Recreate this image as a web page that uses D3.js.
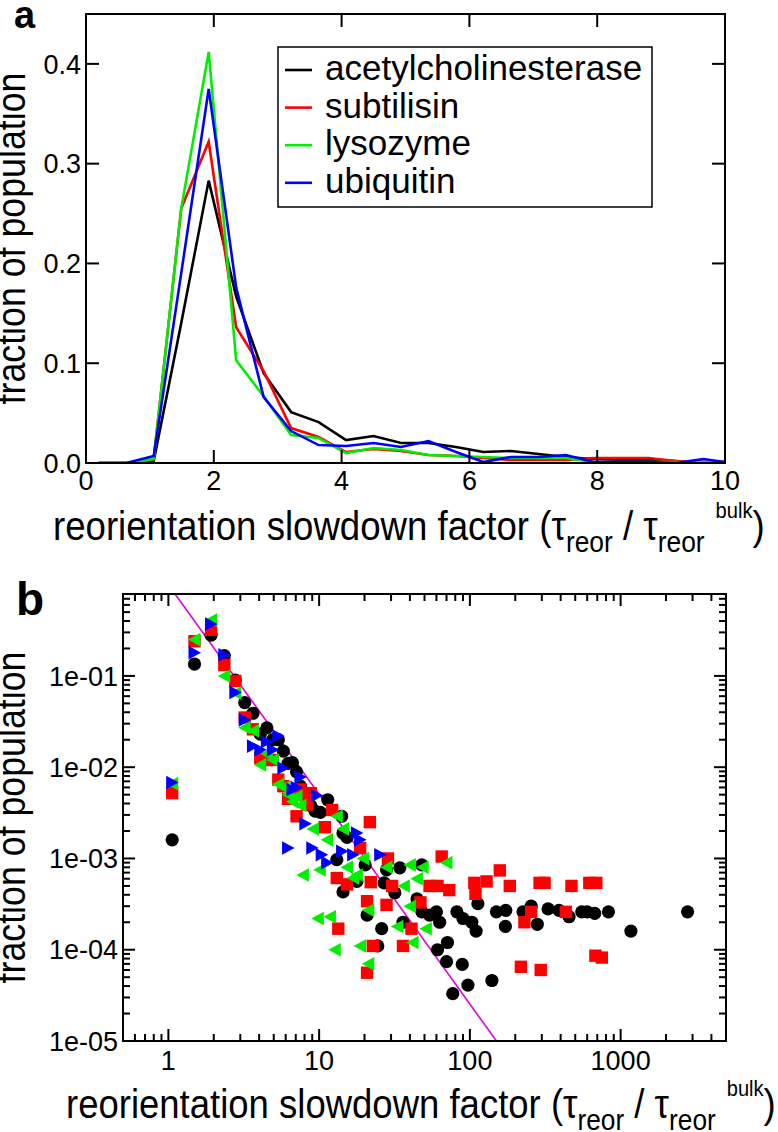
<!DOCTYPE html>
<html><head><meta charset="utf-8">
<script src="https://cdn.jsdelivr.net/npm/d3@7"></script>
<style>body{margin:0;background:#fff} svg{display:block} text{font-family:"Liberation Sans",Arial,Helvetica,sans-serif;fill:#000}</style>
</head><body><svg id="c" width="778" height="1132"></svg>
<script>
// ---------- DATA ----------
const seriesNames = ["acetylcholinesterase", "subtilisin", "lysozyme", "ubiquitin"];
const seriesColors = ["#000000", "#ff0000", "#00ee00", "#0000ff"];

// panel a: histogram bin centres and fractions
const binX = [0.20, 0.63, 1.06, 1.49, 1.92, 2.35, 2.78, 3.21, 3.64, 4.07, 4.50, 4.93, 5.36, 5.79, 6.22, 6.65, 7.08, 7.51, 7.94, 8.37, 8.80, 9.23, 9.66, 10.09];
const histAce = [0, 0, 0.002, 0.140, 0.283, 0.167, 0.090, 0.051, 0.041, 0.023, 0.027, 0.020, 0.020, 0.016, 0.011, 0.012, 0.009, 0.006, 0.004, 0.003, 0.003, 0.002, 0.001, 0.001];
const histSub = [0, 0, 0.004, 0.255, 0.322, 0.136, 0.092, 0.035, 0.026, 0.011, 0.014, 0.012, 0.008, 0.007, 0.005, 0.003, 0.003, 0.003, 0.005, 0.005, 0.005, 0.002, 0.001, 0.001];
const histLys = [0, 0, 0.004, 0.255, 0.412, 0.103, 0.067, 0.028, 0.025, 0.010, 0.015, 0.013, 0.008, 0.007, 0.006, 0.005, 0.005, 0.005, 0.001, 0.001, 0.001, 0.001, 0.001, 0.001];
const histUbi = [0, 0, 0.007, 0.190, 0.375, 0.176, 0.066, 0.032, 0.018, 0.017, 0.020, 0.016, 0.022, 0.011, 0.001, 0.006, 0.006, 0.008, 0.001, 0.001, 0.001, 0.000, 0.004, 0.000];
const xTicksA = [0, 2, 4, 6, 8, 10];
const yTicksA = [0, 0.1, 0.2, 0.3, 0.4];
const yTickLabelsA = ["0.0", "0.1", "0.2", "0.3", "0.4"];

// panel b: log-log scatter
const aceX = [1.06, 1.49, 1.92, 2.35, 2.78, 3.21, 3.64, 4.07, 4.50, 4.93, 5.36, 5.79, 6.22, 6.65, 7.08, 7.51, 7.94, 8.80, 9.4, 10.2, 11.4, 13.1, 14.1, 14.4, 15.3, 14.4, 17.8, 20.2, 20.8, 24.5, 26, 27, 28, 31.8, 34.3, 36, 44.6, 48, 48, 54, 60, 61, 63, 70, 71, 77, 82, 89, 90, 97, 103, 110, 113, 140, 150, 172, 173, 225, 255, 280, 330, 390, 455, 552, 600, 673, 830, 1170, 2780];
const aceY = [0.0016, 0.135, 0.28, 0.167, 0.09, 0.051, 0.039, 0.023, 0.027, 0.020, 0.020, 0.015, 0.011, 0.0112, 0.0089, 0.0062, 0.0048, 0.0038, 0.0033, 0.0032, 0.0044, 0.00097, 0.0029, 0.0019, 0.0017, 0.00043, 0.00056, 0.00085, 0.00024, 0.00011, 0.00017, 0.00054, 0.00075, 0.00042, 0.00079, 0.0002, 0.00036, 0.00085, 0.00026, 0.00024, 0.00026, 0.0001, 0.0002, 0.000074, 0.00012, 0.000033, 0.00026, 0.000069, 0.00022, 0.000041, 0.0002, 0.00016, 0.00032, 0.000046, 0.00026, 0.00018, 0.00027, 0.00026, 0.0003, 0.00019, 0.00028, 0.00027, 0.00023, 0.00026, 0.00026, 0.00025, 0.00026, 0.00016, 0.00026];
const subX = [1.06, 1.49, 1.92, 2.35, 2.78, 3.21, 3.64, 4.07, 4.50, 4.93, 5.36, 5.79, 6.22, 7.08, 7.51, 7.94, 8.37, 8.80, 10.9, 12.2, 13.1, 13.4, 15.3, 18.7, 20.8, 20.8, 21.7, 22, 22.7, 28, 28.6, 30.5, 36, 41, 47, 54, 61, 65, 73, 107, 109, 129, 158, 184, 218, 230, 255, 290, 295, 313, 433, 472, 620, 680, 690, 750];
const subY = [0.0052, 0.24, 0.32, 0.132, 0.088, 0.035, 0.026, 0.0126, 0.012, 0.012, 0.0073, 0.0062, 0.0045, 0.0029, 0.0057, 0.0050, 0.0039, 0.0052, 0.0022, 0.0034, 0.00061, 0.00017, 0.00052, 0.0013, 0.00034, 0.000056, 0.0025, 0.00055, 0.00011, 0.00031, 0.001, 0.0005, 0.00011, 0.00017, 0.00033, 0.0005, 0.0005, 0.00105, 0.00045, 0.00054, 0.00041, 0.00056, 0.00074, 0.0005, 0.000065, 0.0002, 0.00026, 0.00054, 0.00006, 0.00054, 0.00026, 0.0005, 0.00054, 0.000086, 0.00054, 0.000082];
const lysX = [1.06, 1.49, 1.92, 2.35, 2.78, 3.21, 3.64, 4.07, 4.50, 4.93, 5.36, 5.79, 6.22, 6.65, 7.08, 7.51, 7.8, 9.1, 9.8, 10.1, 11.3, 11.8, 12.7, 13.1, 14.4, 15.3, 16.8, 17.8, 18.7, 19.6, 21.2, 21.2, 28, 33, 36.5, 40, 40, 41.7, 44.5, 48.6, 51, 70];
const lysY = [0.0066, 0.25, 0.41, 0.10, 0.065, 0.027, 0.025, 0.0106, 0.014, 0.012, 0.0065, 0.006, 0.005, 0.0042, 0.0048, 0.0038, 0.00066, 0.0021, 0.00022, 0.00075, 0.0016, 0.00023, 0.0001, 0.0029, 0.0021, 0.0008, 0.00061, 0.00066, 0.00011, 0.001, 0.00027, 0.00007, 0.0008, 0.00018, 0.0005, 0.0003, 0.00085, 0.00012, 0.0006, 0.0008, 0.00017, 0.0009];
const ubiX = [1.06, 1.49, 1.92, 2.35, 2.78, 3.21, 3.64, 4.07, 4.50, 4.93, 5.36, 5.79, 6.22, 6.65, 7.08, 7.51, 8.1, 9.0, 9.66, 10.4, 11.3, 14.2, 16.8, 17.8, 18.7, 25.4];
const ubiY = [0.0068, 0.18, 0.37, 0.17, 0.066, 0.033, 0.017, 0.0155, 0.019, 0.0155, 0.022, 0.0098, 0.0013, 0.0057, 0.006, 0.0078, 0.0024, 0.0013, 0.0049, 0.0011, 0.0009, 0.0012, 0.0011, 0.0019, 0.0016, 0.0011];
// power-law guide line (two end points in log-log space)
const fitX = [1, 150];
const fitY = [1, 1e-5];
const xTicksB = [1, 10, 100, 1000];
const xTickLabelsB = ["1", "10", "100", "1000"];
const yTicksB = [1e-1, 1e-2, 1e-3, 1e-4, 1e-5];
const yTickLabelsB = ["1e-01", "1e-02", "1e-03", "1e-04", "1e-05"];

// ---------- DRAWING ----------
const svg = d3.select("#c");
const FONT_TICK = 27;

function axisTitle(g, x0, y0, targetW, fs) {
  const t = g.append("text").attr("font-size", fs);
  t.append("tspan").text("reorientation slowdown factor (\u03c4");
  t.append("tspan").attr("font-size", fs * 0.72).attr("dy", fs * 0.3).text("reor");
  t.append("tspan").attr("dy", -fs * 0.3).text(" / \u03c4");
  t.append("tspan").attr("font-size", fs * 0.72).attr("dy", fs * 0.3).text("reor");
  t.append("tspan").attr("font-size", fs * 0.55).attr("dy", -fs * 0.85).attr("dx", fs * 0.3).text("bulk");
  t.append("tspan").attr("dy", fs * 0.55).text(")");
  const w = t.node().getBBox().width;
  t.attr("transform", `translate(${x0},${y0}) scale(${targetW / w},1)`);
}
function yTitle(g, cx, cy, len, fs) {
  const t = g.append("text").attr("font-size", fs).attr("text-anchor", "middle")
    .text("fraction of population");
  const w = t.node().getBBox().width;
  t.attr("transform", `translate(${cx},${cy}) rotate(-90) scale(${len / w},1)`);
}

// ===== Panel a =====
const A = {l: 86, r: 725, t: 14, b: 463};
const xA = d3.scaleLinear([0, 10], [A.l, A.r]);
const yA = d3.scaleLinear([0, 0.45], [A.b, A.t]);
const gA = svg.append("g");
gA.append("clipPath").attr("id", "clipA").append("rect")
  .attr("x", A.l).attr("y", A.t).attr("width", A.r - A.l).attr("height", A.b - A.t);

const hists = [histAce, histSub, histLys, histUbi];
const lineA = d3.line().x((d, i) => xA(binX[i])).y(d => yA(d));
hists.forEach((h, k) => {
  gA.append("path").datum(h).attr("d", lineA).attr("clip-path", "url(#clipA)")
    .attr("fill", "none").attr("stroke", seriesColors[k]).attr("stroke-width", 2.6)
    .attr("stroke-linejoin", "miter");
});
// frame
gA.append("rect").attr("x", A.l).attr("y", A.t).attr("width", A.r - A.l).attr("height", A.b - A.t)
  .attr("fill", "none").attr("stroke", "#000").attr("stroke-width", 2);
// ticks
const TK = 13;
xTicksA.forEach(v => {
  const x = xA(v);
  if (v > 0 && v < 10) {
    gA.append("line").attr("x1", x).attr("x2", x).attr("y1", A.b).attr("y2", A.b - TK).attr("stroke", "#000").attr("stroke-width", 2);
    gA.append("line").attr("x1", x).attr("x2", x).attr("y1", A.t).attr("y2", A.t + TK).attr("stroke", "#000").attr("stroke-width", 2);
  }
  gA.append("text").attr("x", x).attr("y", 490).attr("text-anchor", "middle").attr("font-size", FONT_TICK).text(v);
});
yTicksA.forEach((v, i) => {
  const y = yA(v);
  if (v > 0) {
    gA.append("line").attr("x1", A.l).attr("x2", A.l + TK).attr("y1", y).attr("y2", y).attr("stroke", "#000").attr("stroke-width", 2);
    gA.append("line").attr("x1", A.r).attr("x2", A.r - TK).attr("y1", y).attr("y2", y).attr("stroke", "#000").attr("stroke-width", 2);
  }
  gA.append("text").attr("x", 81).attr("y", y).attr("dy", "0.36em").attr("text-anchor", "end").attr("font-size", FONT_TICK).text(yTickLabelsA[i]);
});
// legend
const L = {x: 278, y: 47, w: 374, h: 160};
gA.append("rect").attr("x", L.x).attr("y", L.y).attr("width", L.w).attr("height", L.h)
  .attr("fill", "#fff").attr("stroke", "#000").attr("stroke-width", 1.5);
seriesNames.forEach((n, i) => {
  const cy = 70 + 37.6 * i;
  gA.append("line").attr("x1", 285).attr("x2", 312).attr("y1", cy).attr("y2", cy)
    .attr("stroke", seriesColors[i]).attr("stroke-width", 2.6);
  gA.append("text").attr("x", 325).attr("y", cy + 10).attr("font-size", 35).text(n);
});
// titles
axisTitle(gA, 53, 540, 712, 40);
yTitle(gA, 25, (A.t + A.b) / 2, 332, 40);
gA.append("text").attr("x", 14).attr("y", 28).attr("font-size", 38).attr("font-weight", "bold").text("a");

// ===== Panel b =====
const B = {l: 123, r: 726, t: 594, b: 1041};
const xB = d3.scaleLog([0.5, 5000], [B.l, B.r]);
const yB = d3.scaleLog([1e-5, 0.79], [B.b, B.t]);
const gB = svg.append("g");
gB.append("clipPath").attr("id", "clipB").append("rect")
  .attr("x", B.l).attr("y", B.t).attr("width", B.r - B.l).attr("height", B.b - B.t);

// guide line
gB.append("path").datum(fitX.map((x, i) => [x, fitY[i]]))
  .attr("d", d3.line().x(d => xB(d[0])).y(d => yB(d[1])))
  .attr("clip-path", "url(#clipB)").attr("fill", "none").attr("stroke", "#e000e0").attr("stroke-width", 1.6);

const mk = gB.append("g").attr("clip-path", "url(#clipB)");
const S = 6.2;
// black circles
mk.selectAll(".ace").data(aceX.map((x, i) => [x, aceY[i]])).join("circle")
  .attr("cx", d => xB(d[0])).attr("cy", d => yB(d[1])).attr("r", 6.6).attr("fill", seriesColors[0]);
// red squares
mk.selectAll(".sub").data(subX.map((x, i) => [x, subY[i]])).join("rect")
  .attr("x", d => xB(d[0]) - S).attr("y", d => yB(d[1]) - S).attr("width", 2 * S).attr("height", 2 * S).attr("fill", seriesColors[1]);
// green left triangles
mk.selectAll(".lys").data(lysX.map((x, i) => [x, lysY[i]])).join("path")
  .attr("d", d => { const x = xB(d[0]), y = yB(d[1]); return `M${x - 6.5},${y}L${x + 6},${y - 6.8}L${x + 6},${y + 6.8}Z`; })
  .attr("fill", seriesColors[2]);
// blue right triangles
mk.selectAll(".ubi").data(ubiX.map((x, i) => [x, ubiY[i]])).join("path")
  .attr("d", d => { const x = xB(d[0]), y = yB(d[1]); return `M${x + 6.5},${y}L${x - 6},${y - 6.8}L${x - 6},${y + 6.8}Z`; })
  .attr("fill", seriesColors[3]);

// frame
gB.append("rect").attr("x", B.l).attr("y", B.t).attr("width", B.r - B.l).attr("height", B.b - B.t)
  .attr("fill", "none").attr("stroke", "#000").attr("stroke-width", 2);
// log ticks
function logTicks(domain) {
  const out = [];
  for (let e = -6; e <= 4; e++) for (let k = 1; k <= 9; k++) {
    const v = k * Math.pow(10, e);
    if (v >= domain[0] * 0.999 && v <= domain[1] * 1.001) out.push({v, major: k === 1});
  }
  return out;
}
logTicks(xB.domain()).forEach(t => {
  const x = xB(t.v), len = t.major ? 12 : 7;
  if (x <= B.l + 1 || x >= B.r - 1) return;
  gB.append("line").attr("x1", x).attr("x2", x).attr("y1", B.b).attr("y2", B.b - len).attr("stroke", "#000").attr("stroke-width", 2);
  gB.append("line").attr("x1", x).attr("x2", x).attr("y1", B.t).attr("y2", B.t + len).attr("stroke", "#000").attr("stroke-width", 2);
});
logTicks(yB.domain()).forEach(t => {
  const y = yB(t.v), len = t.major ? 12 : 7;
  if (y >= B.b - 1 || y <= B.t + 1) return;
  gB.append("line").attr("x1", B.l).attr("x2", B.l + len).attr("y1", y).attr("y2", y).attr("stroke", "#000").attr("stroke-width", 2);
  gB.append("line").attr("x1", B.r).attr("x2", B.r - len).attr("y1", y).attr("y2", y).attr("stroke", "#000").attr("stroke-width", 2);
});
xTicksB.forEach((v, i) => {
  gB.append("text").attr("x", xB(v)).attr("y", 1070).attr("text-anchor", "middle").attr("font-size", FONT_TICK).text(xTickLabelsB[i]);
});
yTicksB.forEach((v, i) => {
  gB.append("text").attr("x", 118).attr("y", yB(v)).attr("dy", "0.36em").attr("text-anchor", "end").attr("font-size", FONT_TICK).text(yTickLabelsB[i]);
});
axisTitle(gB, 66, 1118, 710, 40);
yTitle(gB, 25, (B.t + B.b) / 2, 332, 40);
gB.append("text").attr("x", 16).attr("y", 615).attr("font-size", 46).attr("font-weight", "bold").text("b");
</script></body></html>
